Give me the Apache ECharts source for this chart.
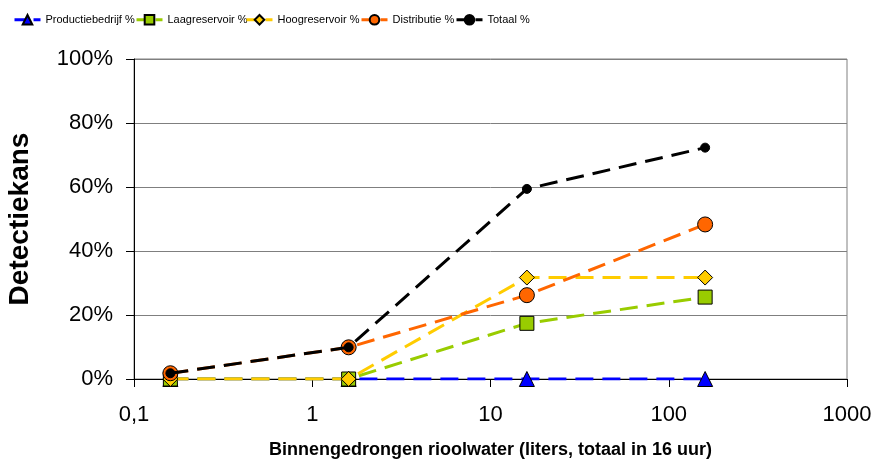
<!DOCTYPE html>
<html>
<head>
<meta charset="utf-8">
<script src="https://cdn.jsdelivr.net/npm/echarts@6/dist/echarts.min.js"></script>
<style>
  html, body { margin: 0; padding: 0; background: #fff; }
  #chart { width: 888px; height: 462px; }
</style>
</head>
<body>
<div id="chart"></div>
<script>
// Volume of intruded sewage water (litres over 16 hours)
const volumes = [0.16, 1.6, 16, 160];

// Detection probability per sampling location (%)
const productiebedrijf = [0, 0, 0, 0];
const laagreservoir = [0, 0, 17.4, 25.6];
const hoogreservoir = [0, 0, 31.7, 31.7];
const distributie = [1.8, 9.9, 26.2, 48.3];
const totaal = [1.8, 9.9, 59.4, 72.3];

const seriesNames = ['Productiebedrijf %', 'Laagreservoir %', 'Hoogreservoir %', 'Distributie %', 'Totaal %'];
const seriesValues = [productiebedrijf, laagreservoir, hoogreservoir, distributie, totaal];

// Left edge of each legend entry along the top row
const legendLefts = [13, 135, 245, 360, 455];

const styles = [
  { color: '#0000FF', symbol: 'triangle', size: 15 },
  { color: '#99CC00', symbol: 'rect', size: 14 },
  { color: '#FFCC00', symbol: 'diamond', size: 15 },
  { color: '#FF6600', symbol: 'circle', size: 15 },
  { color: '#000000', symbol: 'circle', size: 9 }
];

const series = seriesNames.map((name, i) => ({
  name: name,
  type: 'line',
  data: volumes.map((v, j) => [v, seriesValues[i][j]]),
  symbol: styles[i].symbol,
  symbolSize: styles[i].size,
  showAllSymbol: true,
  lineStyle: { color: styles[i].color, width: 3, type: [18, 9] },
  itemStyle: { color: styles[i].color, borderColor: '#000', borderWidth: 1 },
  emphasis: { disabled: true },
  z: 2 + i
}));

// One legend block per series so each entry sits at its own position
const legends = seriesNames.map((name, i) => ({
  data: [name],
  top: 14,
  left: legendLefts[i],
  padding: 0,
  itemWidth: 26,
  itemHeight: 12,
  lineStyle: { width: 3, type: [15, 4] },
  textStyle: { fontSize: 11, color: '#000', fontFamily: 'Liberation Sans, Arial, sans-serif' }
}));

const chart = echarts.init(document.getElementById('chart'), null, { renderer: 'canvas' });
chart.setOption({
  animation: false,
  backgroundColor: '#fff',
  textStyle: { fontFamily: 'Liberation Sans, Arial, sans-serif' },
  legend: legends,
  grid: {
    left: 134, right: 41, top: 59, bottom: 83,
    outerBoundsMode: 'none',
    containLabel: false,
    show: true, borderColor: '#808080', borderWidth: 1
  },
  xAxis: {
    type: 'log',
    logBase: 10,
    min: 0.1,
    max: 1000,
    name: 'Binnengedrongen rioolwater (liters, totaal in 16 uur)',
    nameLocation: 'middle',
    nameGap: 62,
    nameTextStyle: { fontSize: 18, fontWeight: 'bold', color: '#000' },
    axisLine: { lineStyle: { color: '#000', width: 1 } },
    axisTick: { show: true, length: 8, lineStyle: { color: '#000' } },
    minorTick: { show: false },
    splitLine: { show: false },
    axisLabel: {
      fontSize: 22, color: '#000', margin: 25,
      formatter: v => String(Number(v.toPrecision(6))).replace('.', ',')
    }
  },
  yAxis: {
    type: 'value',
    min: 0,
    max: 100,
    interval: 20,
    name: 'Detectiekans',
    nameLocation: 'middle',
    nameGap: 100,
    nameTextStyle: { fontSize: 28, fontWeight: 'bold', color: '#000' },
    axisLine: { show: true, lineStyle: { color: '#000', width: 1 } },
    axisTick: { show: true, length: 8, lineStyle: { color: '#000' } },
    splitLine: { lineStyle: { color: '#7f7f7f', width: 1 } },
    axisLabel: { fontSize: 22, color: '#000', margin: 21, formatter: '{value}%' }
  },
  series: series
});
</script>
</body>
</html>
